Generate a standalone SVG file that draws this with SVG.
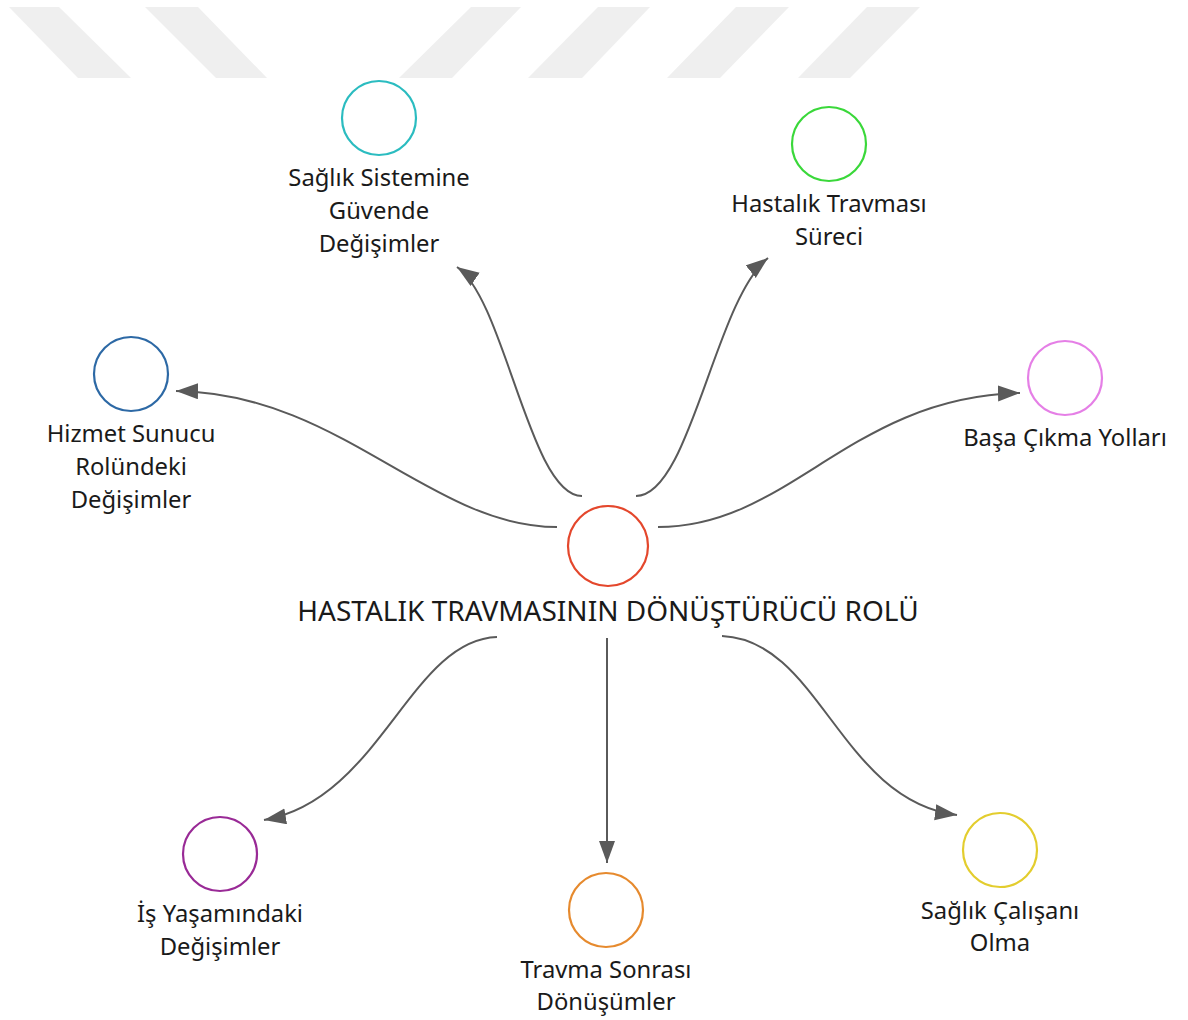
<svg xmlns="http://www.w3.org/2000/svg" width="1188" height="1020" viewBox="0 0 1188 1020">
<style>
.wm{fill:#efefef}
.node{fill:#fff;stroke-width:2.2}
.lbl{font-family:"Noto Sans","Open Sans","DejaVu Sans",sans-serif;font-size:23.8px;fill:#1a1a1a;text-anchor:middle}
.title{font-size:28px}
.edge{fill:none;stroke:#5a5a5a;stroke-width:2}
</style>
<defs>
<marker id="arr" markerUnits="userSpaceOnUse" markerWidth="24" markerHeight="18" refX="22" refY="8" orient="auto" viewBox="0 0 24 18">
<path d="M0,0 L22,8 L0,16 z" fill="#5a5a5a"/>
</marker>
</defs>
<rect width="1188" height="1020" fill="#fff"/>
<g id="watermark">
<polygon class="wm" points="9,7 59,7 131,78 78,78"/>
<polygon class="wm" points="145,7 198,7 267,78 216,78"/>
<polygon class="wm" points="471,7 521,7 452,78 399,78"/>
<polygon class="wm" points="598,7 650,7 582,78 528,78"/>
<polygon class="wm" points="736,7 789,7 720,78 667,78"/>
<polygon class="wm" points="867,7 920,7 850,78 798,78"/>
</g>
<g id="connectors">
<path class="edge" d="M557,527 C430,527 340,393 176,391" marker-end="url(#arr)"/>
<path class="edge" d="M582,496 C530,496 505,300 457,267" marker-end="url(#arr)"/>
<path class="edge" d="M636,496 C690,496 715,300 768,258" marker-end="url(#arr)"/>
<path class="edge" d="M658,527 C790,527 850,397 1020,393" marker-end="url(#arr)"/>
<path class="edge" d="M497,637 C410,640 380,800 264,820" marker-end="url(#arr)"/>
<path class="edge" d="M607,638 L607,863" marker-end="url(#arr)"/>
<path class="edge" d="M722,636 C820,640 840,800 957,815" marker-end="url(#arr)"/>
</g>
<g id="center">
<circle class="node" cx="608" cy="546" r="40" stroke="#e4472c"/>
<text class="lbl title" x="608" y="621">HASTALIK TRAVMASININ DÖNÜŞTÜRÜCÜ ROLÜ</text>
</g>
<g id="saglik-sistemine">
<circle class="node" cx="379" cy="118" r="37" stroke="#2bbcc0"/>
<text class="lbl" x="379" y="186">Sağlık Sistemine</text>
<text class="lbl" x="379" y="219">Güvende</text>
<text class="lbl" x="379" y="252">Değişimler</text>
</g>
<g id="hastalik-travmasi">
<circle class="node" cx="829" cy="144" r="37" stroke="#3ad83a"/>
<text class="lbl" x="829" y="212">Hastalık Travması</text>
<text class="lbl" x="829" y="245">Süreci</text>
</g>
<g id="hizmet-sunucu">
<circle class="node" cx="131" cy="374" r="37" stroke="#2d69a5"/>
<text class="lbl" x="131" y="442">Hizmet Sunucu</text>
<text class="lbl" x="131" y="475">Rolündeki</text>
<text class="lbl" x="131" y="508">Değişimler</text>
</g>
<g id="basa-cikma">
<circle class="node" cx="1065" cy="378" r="37" stroke="#e57fe6"/>
<text class="lbl" x="1065" y="446">Başa Çıkma Yolları</text>
</g>
<g id="is-yasami">
<circle class="node" cx="220" cy="854" r="37" stroke="#992a96"/>
<text class="lbl" x="220" y="922">İş Yaşamındaki</text>
<text class="lbl" x="220" y="955">Değişimler</text>
</g>
<g id="travma-sonrasi">
<circle class="node" cx="606" cy="910" r="37" stroke="#e68a2e"/>
<text class="lbl" x="606" y="978">Travma Sonrası</text>
<text class="lbl" x="606" y="1010">Dönüşümler</text>
</g>
<g id="saglik-calisani">
<circle class="node" cx="1000" cy="850" r="37" stroke="#e3cd2e"/>
<text class="lbl" x="1000" y="919">Sağlık Çalışanı</text>
<text class="lbl" x="1000" y="951">Olma</text>
</g>
</svg>
